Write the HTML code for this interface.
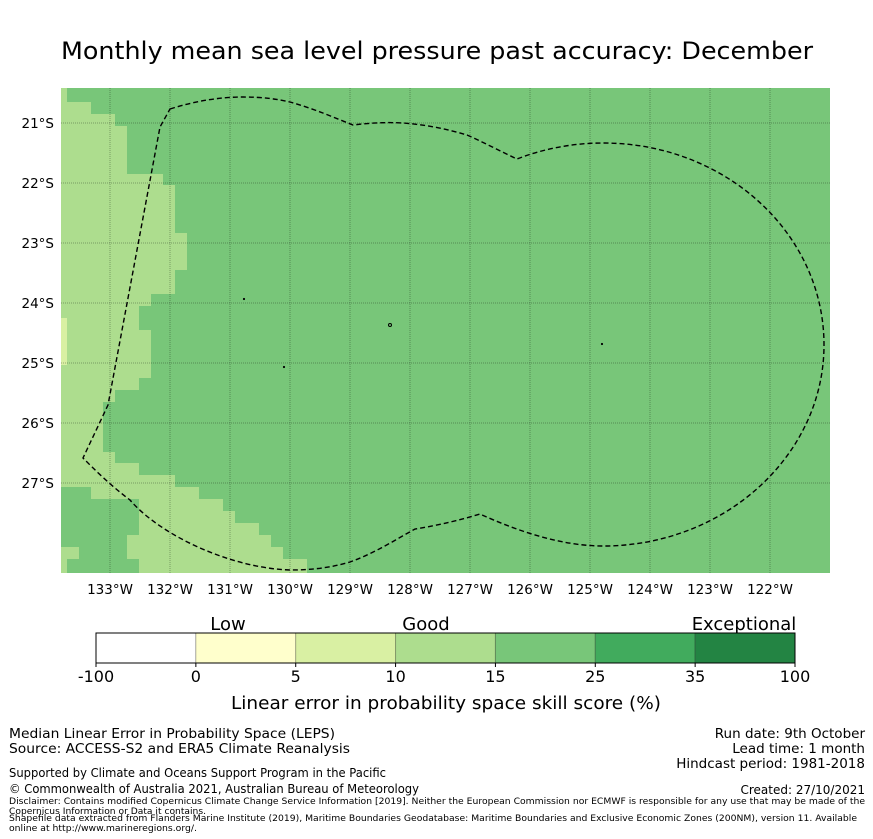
<!DOCTYPE html>
<html><head><meta charset="utf-8"><style>
html,body{margin:0;padding:0;background:#fff;}
svg{display:block;font-family:"DejaVu Sans","Liberation Sans",sans-serif;}
</style></head><body>
<svg id="fig" width="873" height="839" viewBox="0 0 873 839" xmlns="http://www.w3.org/2000/svg">
<text x="61" y="59" font-size="24" textLength="752" lengthAdjust="spacingAndGlyphs" fill="#000">Monthly mean sea level pressure past accuracy: December</text>
<g id="map">
<rect x="61" y="88" width="769" height="485" fill="#78c679"/>
<polygon fill="#addd8e" points="61,88 67,88 67,102 91,102 91,114 115,114 115,126 127,126 127,174 163,174 163,185 175,185 175,233 187,233 187,270 175,270 175,294 151,294 151,306 139,306 139,330 151,330 151,378 139,378 139,390 115,390 115,402 103,402 103,452 115,452 115,463 139,463 139,475 175,475 175,487 199,487 199,499 223,499 223,511 235,511 235,523 259,523 259,535 271,535 271,547 283,547 283,559 307,559 307,573 61,573"/>
<polygon fill="#78c679" points="61,487 91,487 91,499 139,499 139,535 127,535 127,559 139,559 139,573 67,573 67,559 79,559 79,547 61,547"/>
<rect x="61" y="318" width="6" height="47" fill="#d9f0a3"/>
<g id="grid" stroke="#000" stroke-opacity="0.3" stroke-width="1" stroke-dasharray="1,1"></g>
<path fill="none" stroke="#000" stroke-width="1.4" stroke-dasharray="5,3"
 d="M170,109 C195,101 220,97 243,97 C262,97 277,99 290,102 C315,109 335,118 353,125 C370,123 385,122 403,123 C430,125 450,130 467,135 C485,143 502,152 517,159 C540,150 570,143 603,143 C725,143 824,233 824,345 C824,455 725,546 603,546 C560,546 515,530 480,514 C460,520 440,525 415,529 C395,540 375,553 350,562 C330,568 310,570 290,570 C230,568 160,535 130,500 C110,485 95,470 83,458 L108,405 L160,127 Z"/>
<g fill="none" stroke="#000" stroke-width="1">
<circle cx="390" cy="325" r="1.5"/><circle cx="244" cy="299" r="0.6"/><circle cx="284" cy="367" r="0.6"/><circle cx="602" cy="344" r="0.6"/>
</g>
</g>
<g id="lonlabels" font-size="13.5" text-anchor="middle" fill="#000"></g>
<g id="latlabels" font-size="13.5" text-anchor="end" fill="#000"></g>
<g id="cbar"></g>
<text x="228" y="630" font-size="18" text-anchor="middle">Low</text>
<text x="426" y="630" font-size="18" text-anchor="middle">Good</text>
<text x="744" y="630" font-size="18" text-anchor="middle">Exceptional</text>
<text x="231" y="709" font-size="18" textLength="430" lengthAdjust="spacingAndGlyphs">Linear error in probability space skill score (%)</text>
<g font-size="13.5" fill="#000">
<text x="9" y="738" textLength="326" lengthAdjust="spacingAndGlyphs">Median Linear Error in Probability Space (LEPS)</text>
<text x="9" y="753" textLength="341" lengthAdjust="spacingAndGlyphs">Source: ACCESS-S2 and ERA5 Climate Reanalysis</text>
<text x="9" y="777" font-size="12" textLength="377" lengthAdjust="spacingAndGlyphs">Supported by Climate and Oceans Support Program in the Pacific</text>
<text x="9" y="793" font-size="12" textLength="410" lengthAdjust="spacingAndGlyphs">© Commonwealth of Australia 2021, Australian Bureau of Meteorology</text>
<text x="865" y="738" text-anchor="end">Run date: 9th October</text>
<text x="865" y="753" text-anchor="end">Lead time: 1 month</text>
<text x="865" y="768" text-anchor="end">Hindcast period: 1981-2018</text>
<text x="865" y="794" font-size="12" text-anchor="end">Created: 27/10/2021</text>
<g font-size="9">
<text x="9" y="804" textLength="856" lengthAdjust="spacingAndGlyphs">Disclaimer: Contains modified Copernicus Climate Change Service Information [2019]. Neither the European Commission nor ECMWF is responsible for any use that may be made of the</text>
<text x="9" y="814" textLength="197" lengthAdjust="spacingAndGlyphs">Copernicus Information or Data it contains.</text>
<text x="9" y="821" textLength="848" lengthAdjust="spacingAndGlyphs">Shapefile data extracted from Flanders Marine Institute (2019), Maritime Boundaries Geodatabase: Maritime Boundaries and Exclusive Economic Zones (200NM), version 11. Available</text>
<text x="9" y="831" textLength="188" lengthAdjust="spacingAndGlyphs">online at http://www.marineregions.org/.</text>
</g>
</g>
</svg>
<script>
const lonTicks = [133,132,131,130,129,128,127,126,125,124,123,122];
const latTicks = [21,22,23,24,25,26,27];
const cbarBounds = ["-100","0","5","10","15","25","35","100"];
const cbarColors = ["#ffffff","#ffffcc","#d9f0a3","#addd8e","#78c679","#41ab5d","#238443"];
const NS="http://www.w3.org/2000/svg";
const xLon = w => 110 + (133 - w) * 60;
const yLat = s => 123 + (s - 21) * 60;
const grid=document.getElementById('grid'), lonG=document.getElementById('lonlabels'), latG=document.getElementById('latlabels'), cb=document.getElementById('cbar');
lonTicks.forEach(w=>{
  const l=document.createElementNS(NS,'line');
  
  
  l.setAttribute('x1',xLon(w));l.setAttribute('x2',xLon(w));l.setAttribute('y1',88);l.setAttribute('y2',573);
  grid.appendChild(l);
  const t=document.createElementNS(NS,'text');
  
  
  t.setAttribute('x',xLon(w));t.setAttribute('y',594);t.textContent=w+'°W';
  lonG.appendChild(t);
});
latTicks.forEach(s=>{
  const l=document.createElementNS(NS,'line');
  
  
  l.setAttribute('x1',61);l.setAttribute('x2',830);l.setAttribute('y1',yLat(s));l.setAttribute('y2',yLat(s));
  grid.appendChild(l);
  const t=document.createElementNS(NS,'text');
  
  
  t.setAttribute('x',54);t.setAttribute('y',yLat(s)+5);t.textContent=s+'°S';
  latG.appendChild(t);
});
const cx0=96, cx1=795, segW=(cx1-cx0)/cbarColors.length;
const xCb = i => cx0 + i*segW;
cbarColors.forEach((c,i)=>{
  const r=document.createElementNS(NS,'rect');
  
  
  r.setAttribute('x',xCb(i));r.setAttribute('y',633);r.setAttribute('width',segW);r.setAttribute('height',30);
  r.setAttribute('fill',c);r.setAttribute('stroke','rgba(0,0,0,0.25)');r.setAttribute('stroke-width','1');
  cb.appendChild(r);
});
const outline=document.createElementNS(NS,'rect');


outline.setAttribute('x',cx0);outline.setAttribute('y',633);outline.setAttribute('width',cx1-cx0);outline.setAttribute('height',30);
outline.setAttribute('fill','none');outline.setAttribute('stroke','#000');outline.setAttribute('stroke-width','1');
cb.appendChild(outline);
cbarBounds.forEach((b,i)=>{
  const tk=document.createElementNS(NS,'line');
  
  
  tk.setAttribute('x1',xCb(i));tk.setAttribute('x2',xCb(i));tk.setAttribute('y1',663);tk.setAttribute('y2',667);tk.setAttribute('stroke','#000');
  cb.appendChild(tk);
  const t=document.createElementNS(NS,'text');
  
  
  t.setAttribute('x',xCb(i));t.setAttribute('y',682);t.setAttribute('font-size','16');t.setAttribute('text-anchor','middle');
  t.textContent=b;
  cb.appendChild(t);
});
</script>
</body></html>
